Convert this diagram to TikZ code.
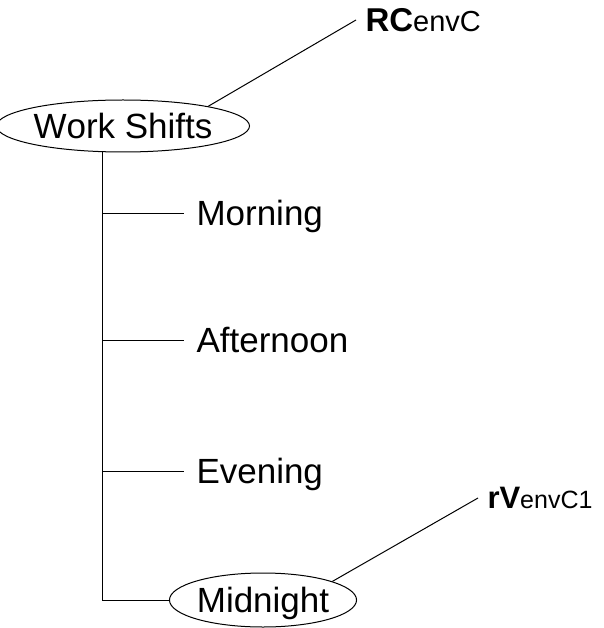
\documentclass[tikz,border=0pt]{standalone}
\usepackage{fontspec}
\setmainfont{Liberation Sans}[Kerning=Off]
\usetikzlibrary{shapes.geometric}

\begin{document}
\begin{tikzpicture}[x=1pt,y=-1pt,line width=1pt,
    topic/.style={ellipse,draw,inner sep=0pt,font=\fontsize{35}{35}\selectfont,
      text height=25pt,text depth=0pt},
    leaf/.style={anchor=west,inner sep=0pt,inner xsep=12pt,font=\fontsize{35}{35}\selectfont,
      text height=25pt,text depth=0pt},
    tag/.style={anchor=west,inner sep=0pt,inner xsep=9pt,text height=24pt,text depth=0pt}]
  \useasboundingbox (0,0) rectangle (603,628);
  \node[topic,minimum width=232pt,minimum height=52pt] (ws) at (123,126) {Work Shifts};
  \node[leaf] (mor) at (184,213) {Morning};
  \node[leaf] (aft) at (184,340) {Afternoon};
  \node[leaf] (eve) at (184,471) {Evening};
  \node[topic,minimum width=166pt,minimum height=54pt] (mid) at (263,600) {Midnight};
  \node[tag] (rc) at (356,20)
    {{\fontsize{33}{33}\selectfont\bfseries RC}{\fontsize{29}{29}\selectfont envC}};
  \node[tag,text height=21pt] (rv) at (478,498)
    {{\fontsize{31}{31}\selectfont\bfseries rV}{\fontsize{25}{25}\selectfont envC1}};
  \draw (ws.-128) |- (mid.west);
  \foreach \n in {mor,aft,eve}
    \draw (ws.-128 |- \n.west) -- (\n.west);
  \draw (ws.13) -- (rc.west);
  \draw (mid.15) -- (rv.west);
\end{tikzpicture}
\end{document}
